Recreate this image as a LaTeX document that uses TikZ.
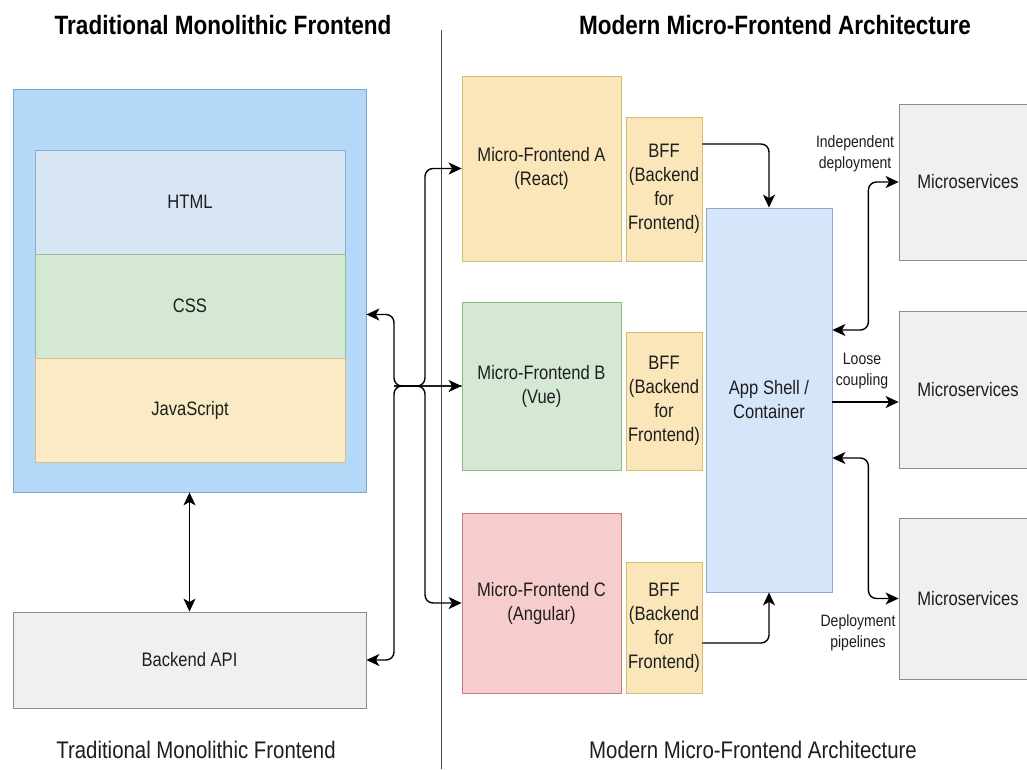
\documentclass[tikz,border=0pt]{standalone}
\usepackage{fontspec}
\setmainfont{Liberation Sans}[FakeStretch=0.85]
\usetikzlibrary{arrows.meta,calc}
\definecolor{monoFill}{HTML}{B3D8F8}
\definecolor{monoLine}{HTML}{7EA6CB}
\definecolor{htmlFill}{HTML}{D7E5F4}
\definecolor{htmlLine}{HTML}{8FA8C8}
\definecolor{cssFill}{HTML}{D5E8D4}
\definecolor{cssLine}{HTML}{9BBB92}
\definecolor{jsFill}{HTML}{FBEBC5}
\definecolor{jsLine}{HTML}{D9C08A}
\definecolor{yelFill}{HTML}{FAE6B8}
\definecolor{yelLine}{HTML}{D8BB76}
\definecolor{grnFill}{HTML}{D5E8D4}
\definecolor{grnLine}{HTML}{90B987}
\definecolor{redFill}{HTML}{F6CDCC}
\definecolor{redLine}{HTML}{BF7E7C}
\definecolor{shellFill}{HTML}{D6E6FA}
\definecolor{shellLine}{HTML}{8CA9CF}
\definecolor{grayFill}{HTML}{F0F0F0}
\definecolor{grayLine}{HTML}{8C8C8C}
\definecolor{txt}{HTML}{1E1E1E}
\begin{document}
\begin{tikzpicture}[x=1pt,y=-1pt,
  box/.style={draw, line width=0.8pt, inner sep=0pt, align=center, text=txt,
    font=\fontsize{19.5}{24}\selectfont},
  yel/.style={box, fill=yelFill, draw=yelLine},
  grn/.style={box, fill=grnFill, draw=grnLine},
  red/.style={box, fill=redFill, draw=redLine},
  gry/.style={box, fill=grayFill, draw=grayLine},
  tip/.style={},
  arr/.style={-{Stealth[length=13pt,width=12pt,inset=3.5pt]}, line width=1.4pt, rounded corners=8pt, draw=black},
  darr/.style={{Stealth[length=13pt,width=12pt,inset=3.5pt]}-{Stealth[length=13pt,width=12pt,inset=3.5pt]}, line width=1.4pt, rounded corners=8pt, draw=black},
  title/.style={font=\fontsize{26.5}{30}\selectfont\bfseries, text=black},
  caption/.style={font=\fontsize{24}{28}\selectfont, text=txt},
  lbl/.style={font=\fontsize{16.5}{21}\selectfont, align=center, text=txt, inner sep=0pt}
]
\useasboundingbox[fill=white] (0,0) rectangle (1027,769);

% titles
\node[title] (t1) at (223,25) {Traditional Monolithic Frontend};
\node[title] (t2) at (775,25) {Modern Micro-Frontend Architecture};
\node[caption] (c1) at (196,750) {Traditional Monolithic Frontend};
\node[caption] (c2) at (753,750) {Modern Micro-Frontend Architecture};

% divider
\coordinate (dtop) at (441,30);
\coordinate (dbot) at (441,769);
\draw[line width=0.8pt, draw=black!70] (dtop) -- (dbot);

% monolith
\node[box, fill=monoFill, draw=monoLine, minimum width=353pt, minimum height=403pt] (mono) at (189.5,290.5) {};
\node[box, fill=htmlFill, draw=htmlLine, minimum width=310pt, minimum height=104pt] (html) at (190,202) {HTML};
\node[box, fill=cssFill, draw=cssLine, minimum width=310pt, minimum height=104pt] (css) at (190,306) {CSS};
\node[box, fill=jsFill, draw=jsLine, minimum width=310pt, minimum height=104pt] (js) at (190,410) {JavaScript};
\node[gry, minimum width=353pt, minimum height=96pt] (api) at (189.5,660) {Backend API};
\draw[darr] (mono.south) -- (api.north);

% micro-frontends
\node[yel, minimum width=159pt, minimum height=185pt] (mfa) at (541.5,168.5) {Micro-Frontend A\\(React)};
\node[grn, minimum width=159pt, minimum height=168pt] (mfb) at (541.5,386) {Micro-Frontend B\\(Vue)};
\node[red, minimum width=159pt, minimum height=180pt] (mfc) at (541.5,603) {Micro-Frontend C\\(Angular)};

\node[yel, minimum width=76pt, minimum height=144pt] (bffa) at (664,189) {BFF\\(Backend\\for\\Frontend)};
\node[yel, minimum width=76pt, minimum height=138pt] (bffb) at (664,401) {BFF\\(Backend\\for\\Frontend)};
\node[yel, minimum width=76pt, minimum height=131pt] (bffc) at (664,627.5) {BFF\\(Backend\\for\\Frontend)};

\node[box, fill=shellFill, draw=shellLine, minimum width=126pt, minimum height=384pt] (shell) at (769,400) {App Shell /\\Container};

\node[gry, minimum width=138pt, minimum height=156pt] (ms1) at (968,182) {Microservices};
\node[gry, minimum width=138pt, minimum height=157pt] (ms2) at (968,389.5) {Microservices};
\node[gry, minimum width=138pt, minimum height=161pt] (ms3) at (968,598.5) {Microservices};

% left bus
\coordinate (jL) at (394,386);
\coordinate (jR) at (425,386);
\draw[darr] ([yshift=-24pt]mono.east) -| (jL) -- (mfb.west);
\draw[arr] (mfb.west) -- (jL) |- (api.east);
\draw[arr] (jL) -- (jR) |- (mfa.west);
\draw[arr] (jL) -- (jR) |- (mfc.west);

% BFF to shell
\draw[arr] ([yshift=45pt]bffa.east) -| (shell.north);
\draw[arr] ([yshift=-15.5pt]bffc.east) -| (shell.south);

% shell to microservices
\draw[darr] ([yshift=70pt]shell.east) -- ++(36,0) |- (ms1.west);
\draw[arr] ([yshift=-2pt]shell.east) -- ([yshift=-2pt]shell.east -| ms2.west);
\draw[darr] ([yshift=-58pt]shell.east) -- ++(36,0) |- (ms3.west);

% labels
\node[lbl] (l1) at (855,154) {Independent\\deployment};
\node[lbl] (l2) at (862,371) {Loose\\coupling};
\node[lbl] (l3) at (858,633) {Deployment\\pipelines};
\end{tikzpicture}
\end{document}
